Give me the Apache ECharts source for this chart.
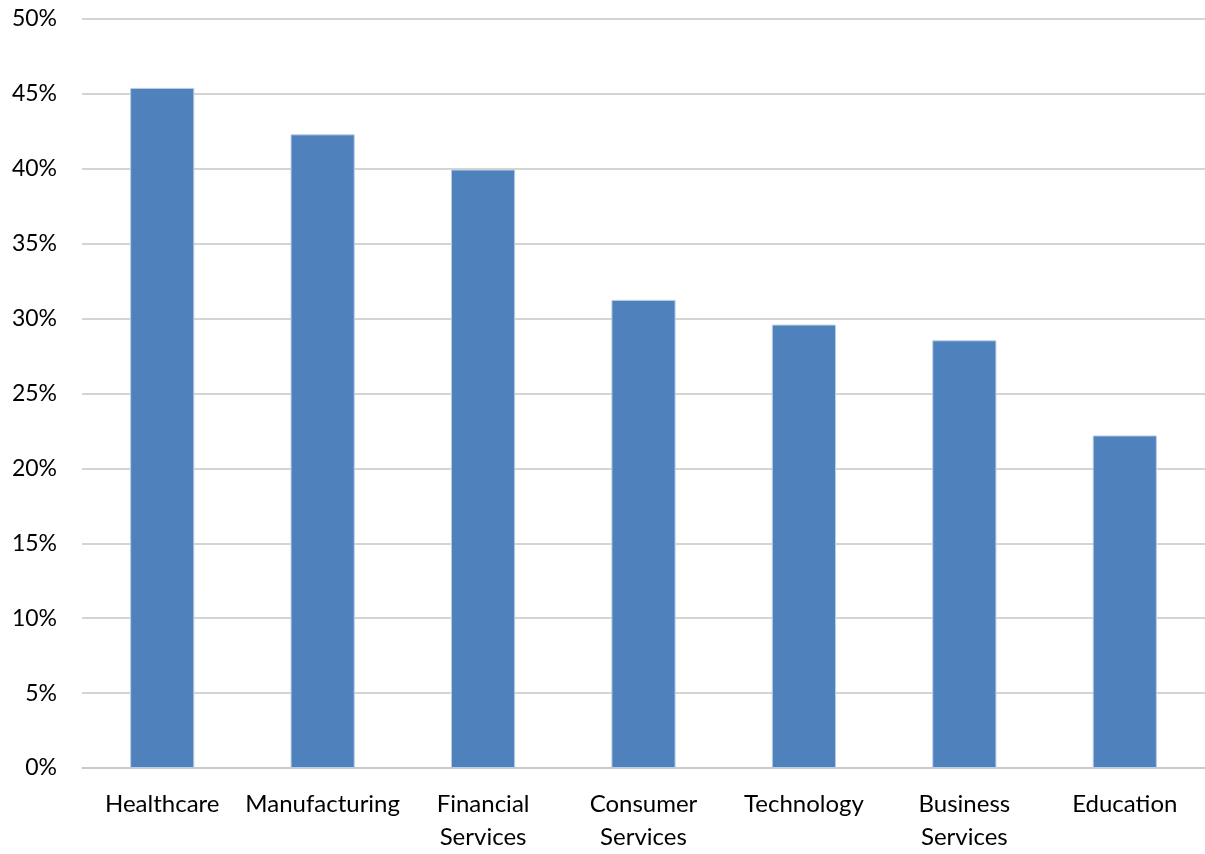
<!DOCTYPE html>
<html>
<head>
<meta charset="utf-8">
<title>Share by industry</title>
<script src="https://cdn.jsdelivr.net/npm/echarts@6/dist/echarts.min.js"></script>
<style>
  html, body { margin: 0; padding: 0; background: #fff; }
  #chart { width: 1205px; height: 854px; }
</style>
</head>
<body>
<div id="chart"></div>
<script>
// Industries shown along the x axis
const categories = [
  'Healthcare',
  'Manufacturing',
  'Financial\nServices',
  'Consumer\nServices',
  'Technology',
  'Business\nServices',
  'Education'
];

// Share per industry, in percent
const shares = [45.4, 42.3, 39.95, 31.25, 29.6, 28.55, 22.2];

// Value axis range and step, in percent
const yMin = 0;
const yMax = 50;
const yStep = 5;

const font = 'Lato, "Open Sans", sans-serif';

const chart = echarts.init(document.getElementById('chart'), null, { renderer: 'canvas' });

chart.setOption({
  animation: false,
  backgroundColor: '#ffffff',
  grid: { left: 82, right: 0, top: 19, bottom: 80, containLabel: false },
  xAxis: {
    type: 'category',
    data: categories,
    axisLine: { show: true, lineStyle: { color: '#c6c6c6', width: 1.5 } },
    axisTick: { show: false },
    axisLabel: {
      color: '#000',
      fontFamily: font,
      fontSize: 24,
      lineHeight: 33,
      margin: 20,
      interval: 0
    }
  },
  yAxis: {
    type: 'value',
    min: yMin,
    max: yMax,
    interval: yStep,
    axisLine: { show: false },
    axisTick: { show: false },
    splitLine: { lineStyle: { color: '#c6c6c6', width: 1.5 } },
    axisLabel: {
      color: '#000',
      fontFamily: font,
      fontSize: 23,
      margin: 25,
      formatter: v => v + '%'
    }
  },
  series: [{
    type: 'bar',
    data: shares,
    barCategoryGap: '60%',
    itemStyle: {
      color: '#4f81bd',
      borderColor: '#b9cde5',
      borderWidth: 1
    }
  }]
});
</script>
</body>
</html>
